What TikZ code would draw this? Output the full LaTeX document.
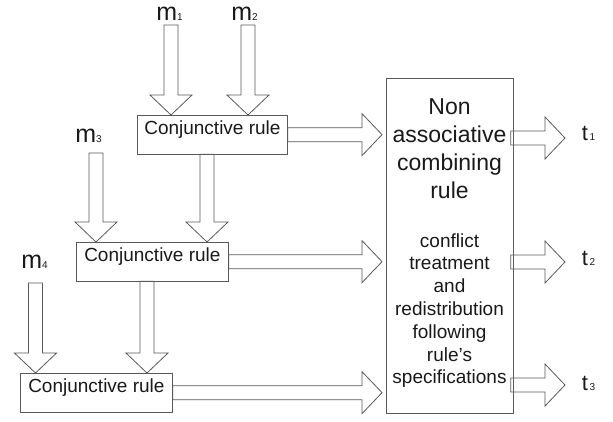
\documentclass[tikz,border=0pt]{standalone}
\usepackage{fontspec}
\setmainfont{Liberation Sans}
\usetikzlibrary{calc}
\definecolor{ln}{gray}{0.35}
\definecolor{tx}{gray}{0.1}
\newcommand\blkh[2]{% tail, tip (rightward block arrow)
  \draw[blk] let \p1=(#1), \p2=(#2) in
  (\x1,\y2+7pt) -- (\x2-20pt,\y2+7pt) -- (\x2-20pt,\y2+21pt) -- (\x2,\y2)
  -- (\x2-20pt,\y2-21pt) -- (\x2-20pt,\y2-7pt) -- (\x1,\y2-7pt) -- cycle;}
\newcommand\blkv[2]{% tail, tip (downward block arrow)
  \draw[blk] let \p1=(#1), \p2=(#2) in
  (\x2-7pt,\y1) -- (\x2-7pt,\y2+20pt) -- (\x2-21pt,\y2+20pt) -- (\x2,\y2)
  -- (\x2+21pt,\y2+20pt) -- (\x2+7pt,\y2+20pt) -- (\x2+7pt,\y1) -- cycle;}
\begin{document}
\begin{tikzpicture}[x=1pt,y=-1pt,line width=0.8pt,
  box/.style={draw=ln,inner sep=0pt,text height=19.5pt,text depth=19pt,
    minimum width=#1,anchor=north west,font=\fontsize{19}{22}\selectfont,text=tx},
  box/.default=152pt,
  blk/.style={draw=ln,line join=miter},
  lab/.style={inner sep=0pt,anchor=base west,text=tx},
  bigt/.style={inner sep=0pt,anchor=base,font=\fontsize{23}{27}\selectfont,text=tx},
  smallt/.style={inner sep=0pt,anchor=base,font=\fontsize{19}{23}\selectfont,text=tx}]
\useasboundingbox (0,0) rectangle (613,421);

% conjunctive boxes
\node[box=150pt] (b1) at (137,115) {Conjunctive rule};
\node[box] (b2) at (76,242) {Conjunctive rule};
\node[box] (b3) at (20,373) {Conjunctive rule};

% big box
\node[draw=ln,inner sep=0pt,minimum width=127pt,minimum height=335pt,anchor=north west] (big) at (386,78) {};

% big box text
\foreach \t/\y [count=\i] in {Non/114,associative/142,combining/170,rule/198}
  \node[bigt] (g\i) at (449.5,\y) {\t};
\foreach \t/\y [count=\i] in {conflict/247,treatment/269.8,and/292.6,redistribution/315.4,following/338.2,rule’s/361,specifications/383.8}
  \node[smallt] (s\i) at (449.5,\y) {\t};

% input labels
\node[lab] (m1) at (156,20) {\fontsize{25}{30}\selectfont m\fontsize{10}{12}\selectfont 1};
\node[lab] (m2) at (231,20) {\fontsize{25}{30}\selectfont m\fontsize{10}{12}\selectfont 2};
\node[lab] (m3) at (75,142) {\fontsize{25}{30}\selectfont m\fontsize{10}{12}\selectfont 3};
\node[lab] (m4) at (21,268) {\fontsize{25}{30}\selectfont m\fontsize{10}{12}\selectfont 4};

% output labels
\node[lab] (t1) at (581.5,140) {\fontsize{22}{26}\selectfont t\kern1.5pt\fontsize{10}{12}\selectfont 1};
\node[lab] (t2) at (581.5,265) {\fontsize{22}{26}\selectfont t\kern1.5pt\fontsize{10}{12}\selectfont 2};
\node[lab] (t3) at (581.5,390) {\fontsize{22}{26}\selectfont t\kern1.5pt\fontsize{10}{12}\selectfont 3};

% arrow reference coordinates
\coordinate (a1) at (171,25);
\coordinate (a2) at (248,25);
\coordinate (a3) at (96,153);
\coordinate (a4) at (35.5,283);
\coordinate (d1) at (207,0);
\coordinate (d2) at (147,0);
\coordinate (o1) at (565,138);
\coordinate (o2) at (565,262);
\coordinate (o3) at (565,385);

% inputs
\blkv{a1}{a1 |- b1.north}
\blkv{a2}{a2 |- b1.north}
\blkv{a3}{a3 |- b2.north}
\blkv{a4}{a4 |- b3.north}
% cascade
\blkv{d1 |- b1.south}{d1 |- b2.north}
\blkv{d2 |- b2.south}{d2 |- b3.north}
% to combining rule
\blkh{b1.east}{$(big.west |- b1.east)+(-4,0)$}
\blkh{b2.east}{$(big.west |- b2.east)+(-4,0)$}
\blkh{b3.east}{$(big.west |- b3.east)+(-4,0)$}
% outputs
\blkh{$(big.east |- o1)+(-3,0)$}{o1}
\blkh{$(big.east |- o2)+(-3,0)$}{o2}
\blkh{$(big.east |- o3)+(-3,0)$}{o3}
\end{tikzpicture}
\end{document}
